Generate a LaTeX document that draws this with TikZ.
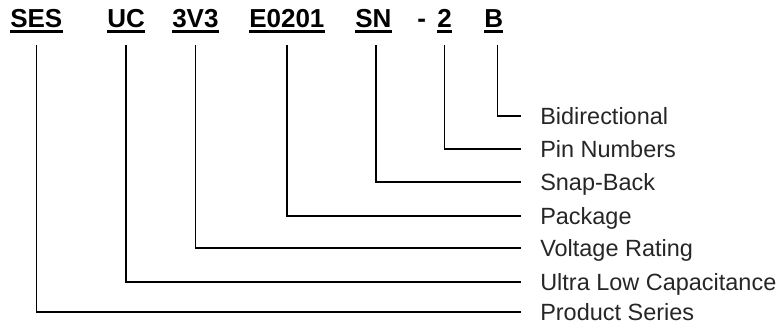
\documentclass[tikz,border=0pt]{standalone}
\usepackage{fontspec}
\setmainfont{Liberation Sans}
\begin{document}
\begin{tikzpicture}[x=0.75pt, y=-0.75pt,
		code/.style={font=\fontsize{19.5}{22}\selectfont\bfseries, inner sep=0pt, anchor=base west},
		lab/.style={font=\fontsize{17.6}{20}\selectfont, text=black!85, inner sep=0pt, anchor=west, text height=12.6pt, text depth=0pt},
		uline/.style={line width=1.8pt},
		conn/.style={line width=1pt, shorten >=14.25pt}]
		\useasboundingbox (0,0) rectangle (784,329);

		% Draw part number
		\node[code] (ses) at (10,27) {SES};
		\node[code] (uc) at (107,27) {UC};
		\node[code] (volt) at (172,27) {3V3};
		\node[code] (pkg) at (249,27) {E0201};
		\node[code] (sn) at (355,27) {SN};
		\node[code] (dash) at (417,27) {-};
		\node[code] (pins) at (437,27) {2};
		\node[code] (bi) at (484,27) {B};

		% Draw underlines
		\draw[uline] ([yshift=-3.4pt]ses.base west) -- ([yshift=-3.4pt]ses.base east);
		\draw[uline] ([yshift=-3.4pt]uc.base west) -- ([yshift=-3.4pt]uc.base east);
		\draw[uline] ([yshift=-3.4pt]volt.base west) -- ([yshift=-3.4pt]volt.base east);
		\draw[uline] ([yshift=-3.4pt]pkg.base west) -- ([yshift=-3.4pt]pkg.base east);
		\draw[uline] ([yshift=-3.4pt]sn.base west) -- ([yshift=-3.4pt]sn.base east);
		\draw[uline] ([yshift=-3.4pt]pins.base west) -- ([yshift=-3.4pt]pins.base east);
		\draw[uline] ([yshift=-3.4pt]bi.base west) -- ([yshift=-3.4pt]bi.base east);

		% Draw labels
		\node[lab] (lbi) at (540,116) {Bidirectional};
		\node[lab] (lpins) at (540,149) {Pin Numbers};
		\node[lab] (lsn) at (540,182) {Snap-Back};
		\node[lab] (lpkg) at (540,216) {Package};
		\node[lab] (lvolt) at (540,248) {Voltage Rating};
		\node[lab] (luc) at (540,282) {Ultra Low Capacitance};
		\node[lab] (lses) at (540,312) {Product Series};

		% Draw connectors
		\draw[conn] ([yshift=-13.5pt,xshift=3pt]bi.base) |- (lbi.west);
		\draw[conn] ([yshift=-13.5pt]pins.base) |- (lpins.west);
		\draw[conn] ([yshift=-13.5pt,xshift=2pt]sn.base) |- (lsn.west);
		\draw[conn] ([yshift=-13.5pt]pkg.base) |- (lpkg.west);
		\draw[conn] ([yshift=-13.5pt]volt.base) |- (lvolt.west);
		\draw[conn] ([yshift=-13.5pt]uc.base) |- (luc.west);
		\draw[conn] ([yshift=-13.5pt]ses.base) |- (lses.west);
	\end{tikzpicture}
\end{document}
